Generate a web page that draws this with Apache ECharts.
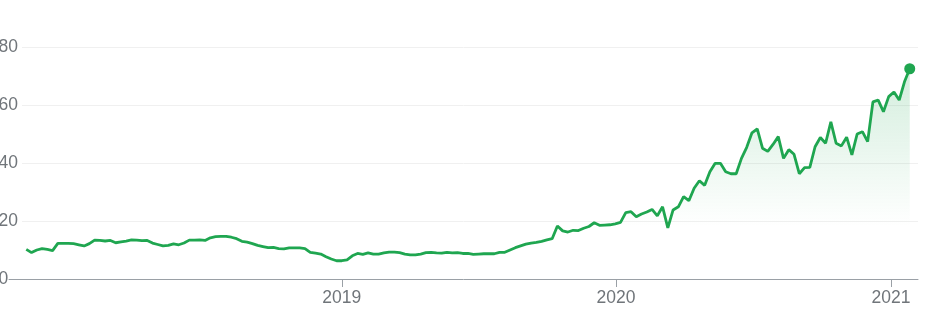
<!DOCTYPE html>
<html><head><meta charset="utf-8">
<script src="https://cdn.jsdelivr.net/npm/echarts@6/dist/echarts.min.js"></script>
<style>html,body{margin:0;padding:0;background:#fff}#c{width:939px;height:322px}</style>
</head><body><div id="c"></div>
<script>
// Weekly closing prices, first week starting 2017-11-07
const startDate = '2017-11-07';
const stepDays = 7;
const prices = [
  10.2, 9.1, 10.0, 10.5, 10.2, 9.8, 12.3, 12.3, 12.3, 12.2,
  11.8, 11.4, 12.2, 13.4, 13.3, 13.1, 13.3, 12.5, 12.8, 13.1,
  13.5, 13.4, 13.2, 13.3, 12.4, 11.9, 11.4, 11.6, 12.1, 11.8,
  12.4, 13.4, 13.4, 13.5, 13.3, 14.2, 14.6, 14.7, 14.7, 14.4,
  13.9, 13.0, 12.7, 12.2, 11.6, 11.2, 10.8, 10.9, 10.5, 10.4,
  10.7, 10.7, 10.7, 10.5, 9.2, 8.9, 8.6, 7.7, 6.9, 6.3,
  6.3, 6.6, 8.0, 8.8, 8.5, 9.0, 8.6, 8.6, 9.0, 9.3,
  9.3, 9.1, 8.6, 8.3, 8.3, 8.6, 9.1, 9.2, 9.0, 8.9,
  9.2, 9.0, 9.1, 8.8, 8.8, 8.5, 8.6, 8.7, 8.7, 8.7,
  9.2, 9.2, 10.0, 10.8, 11.4, 12.0, 12.4, 12.6, 13.0, 13.5,
  13.9, 18.3, 16.6, 16.2, 16.8, 16.7, 17.5, 18.1, 19.4, 18.5,
  18.6, 18.7, 19.0, 19.5,
  22.9, 23.2, 21.5, 22.4, 23.1, 24.0, 21.8, 24.9, 17.6, 23.8,
  24.9, 28.4, 27.0, 31.3, 33.9, 32.3, 37.0, 39.9, 39.9, 37.0,
  36.3, 36.3, 41.6, 45.4, 50.4, 51.8, 45.1, 44.0, 46.4, 49.1,
  41.6, 44.6, 43.0, 36.3, 38.4, 38.5, 45.6, 48.8, 46.8, 54.2,
  46.8, 45.9, 48.9, 42.8, 50.0, 50.8, 47.4, 61.1, 61.7, 57.7,
  62.9, 64.5, 61.7, 68.0, 72.5
];
const yearTicks = ['2019-01-01', '2020-01-01', '2021-01-01'];
const yTicks = [0, 20, 40, 60, 80];
const xRange = ['2017-10-15', '2021-02-06'];

const ts = s => +new Date(s + 'T00:00:00');
const start = new Date(startDate + 'T00:00:00');
const dates = prices.map((_, i) => +new Date(start.getFullYear(), start.getMonth(), start.getDate() + i * stepDays));
const lineData = prices.map((v, i) => [dates[i], v]);

const GREEN = '#1fa650';
const LABEL = '#70757a';
const FONT = 'Arial, "Liberation Sans", sans-serif';

const chart = echarts.init(document.getElementById('c'), null, {renderer: 'canvas'});
chart.setOption({
  animation: false,
  grid: {left: 9, right: 21, top: 47, bottom: 43, containLabel: false, outerBoundsMode: 'none'},
  xAxis: {
    type: 'value',
    min: ts(xRange[0]),
    max: ts(xRange[1]),
    axisLine: {lineStyle: {color: '#9aa0a6', width: 1}},
    axisTick: {show: true, customValues: yearTicks.map(ts), length: 8, lineStyle: {color: '#9aa0a6', width: 1}},
    axisLabel: {
      customValues: yearTicks.map(ts),
      formatter: v => String(new Date(v).getFullYear()),
      color: LABEL, fontSize: 17.5, fontFamily: FONT, margin: 10
    },
    splitLine: {show: false}
  },
  yAxis: {
    type: 'value',
    min: yTicks[0], max: yTicks[yTicks.length - 1], interval: 20,
    axisLine: {show: false},
    axisTick: {show: false},
    splitLine: {lineStyle: {color: '#f0f0f0', width: 1}},
    axisLabel: {
      align: 'left', margin: 10.5,
      formatter: v => v === 0 ? '{z|0}' : '{a|' + v + '}',
      rich: {
        a: {backgroundColor: '#fff', padding: [2, 4, 2, 0], color: LABEL, fontSize: 17.5, fontFamily: FONT},
        z: {color: LABEL, fontSize: 17.5, fontFamily: FONT}
      }
    }
  },
  series: [
    {
      type: 'line',
      data: lineData,
      showSymbol: false,
      symbol: 'none',
      lineStyle: {color: GREEN, width: 2.8},
      itemStyle: {color: GREEN},
      areaStyle: {
        color: new echarts.graphic.LinearGradient(0, 0, 0, 1, [
          {offset: 0, color: 'rgba(31,166,80,0.28)'},
          {offset: 0.75, color: 'rgba(31,166,80,0)'},
          {offset: 1, color: 'rgba(31,166,80,0)'}
        ])
      },
      z: 3
    },
    {
      type: 'scatter',
      data: [lineData[lineData.length - 1]],
      symbolSize: 11,
      itemStyle: {color: GREEN, opacity: 1},
      z: 4
    }
  ]
});
</script>
</body></html>
